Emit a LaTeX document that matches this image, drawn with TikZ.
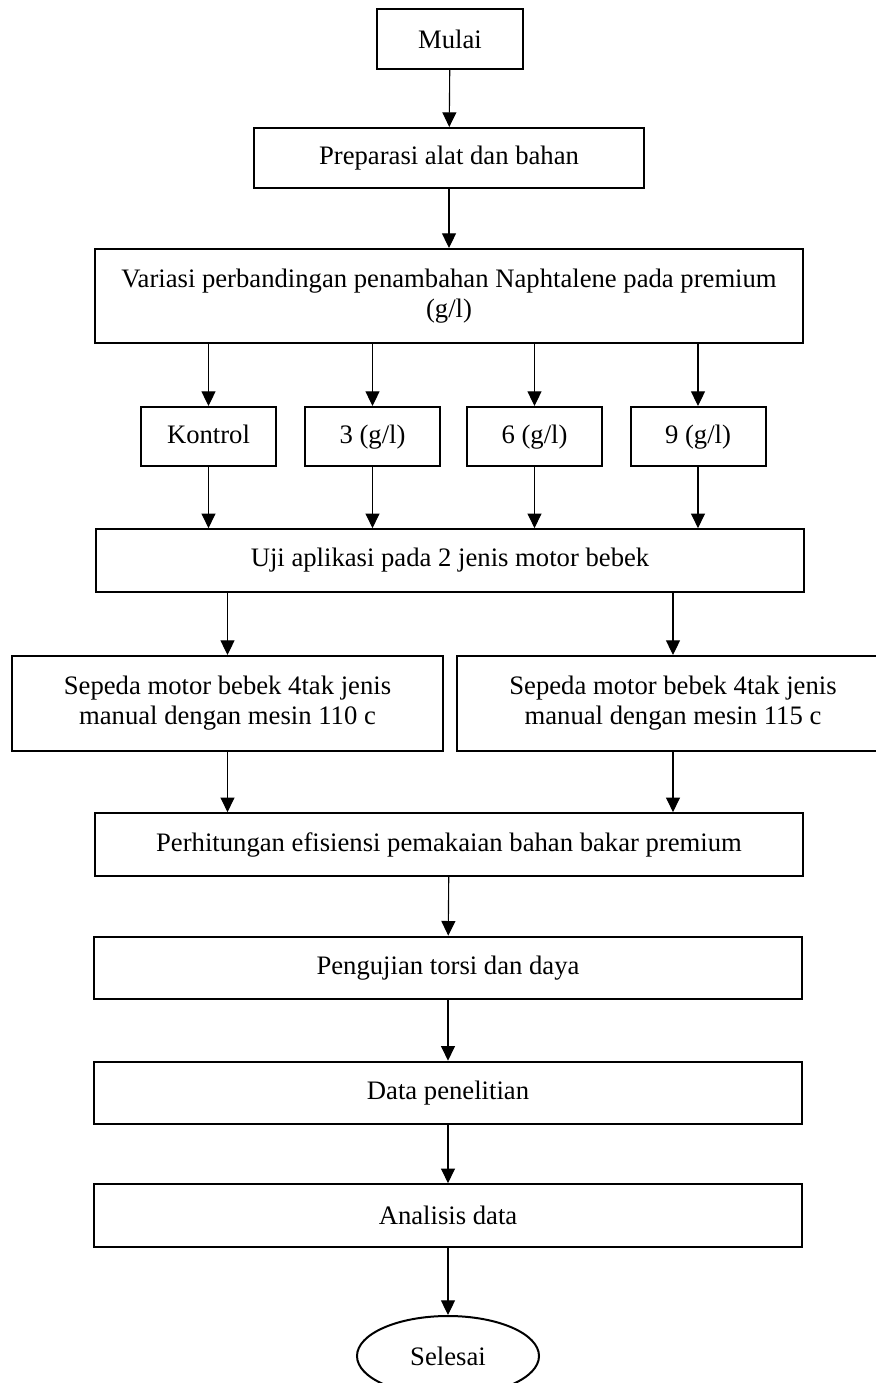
\documentclass[tikz,border=0pt]{standalone}
\usepackage{fontspec}
\setmainfont{Liberation Serif}
\usepackage{tikz}
\usetikzlibrary{arrows.meta,shapes.geometric}

\begin{document}
\begin{tikzpicture}[x=0.45pt,y=-0.45pt,
    kotak/.style={draw=black, line width=0.9pt, inner sep=0pt, align=center, font=\fontsize{12}{13.5}\selectfont},
    lebar/.style={kotak, minimum width=318.6pt, minimum height=28.2pt},
    kecil/.style={kotak, minimum width=60.75pt, minimum height=26.55pt, text height=8.5pt, text depth=2.5pt},
    panah/.style={line width=0.5pt, -{Triangle[width=6.3pt,length=6.6pt]}}]
	    \useasboundingbox (0,0) rectangle (875,1383);
	    % kotak utama
	    \node[kotak, minimum width=65.7pt, minimum height=27pt] (mulai) at (450,39) {Mulai};
	    \node[kotak, minimum width=175.5pt, minimum height=27pt] (prep) at (449,158) {Preparasi alat dan bahan};
	    \node[lebar, minimum height=42.3pt] (variasi) at (449,296) {Variasi perbandingan penambahan Naphtalene pada premium\\(g/l)};
	    \node[kecil] (kontrol) at (208.5,436.5) {Kontrol};
	    \node[kecil] (tiga) at (372.5,436.5) {3 (g/l)};
	    \node[kecil] (enam) at (534.5,436.5) {6 (g/l)};
	    \node[kecil] (sembilan) at (698,436.5) {9 (g/l)};
	    \node[lebar] (uji) at (450,560.5) {Uji aplikasi pada 2 jenis motor bebek};
	    \node[kotak, minimum width=193.95pt, minimum height=42.75pt] (motora) at (227.5,703.5) {Sepeda motor bebek 4tak jenis\\manual dengan mesin 110 c};
	    \node[kotak, minimum width=194.4pt, minimum height=42.75pt] (motorb) at (673,703.5) {Sepeda motor bebek 4tak jenis\\manual dengan mesin 115 c};
	    \node[lebar] (hitung) at (449,844.5) {Perhitungan efisiensi pemakaian bahan bakar premium};
	    \node[lebar] (torsi) at (448,968) {Pengujian torsi dan daya};
	    \node[lebar] (data) at (448,1093) {Data penelitian};
	    \node[lebar] (analisis) at (448,1215.5) {Analisis data};
	    \node[kotak, ellipse, minimum width=81.9pt, minimum height=36pt] (selesai) at (448,1356) {Selesai};
	    % panah
	    \draw[panah] (mulai) -- (prep);
	    \draw[panah] (prep) -- (variasi);
	    \foreach \k in {kontrol,tiga,enam,sembilan} {
	        \draw[panah] (\k.north |- variasi.south) -- (\k.north);
	        \draw[panah] (\k.south) -- (\k.south |- uji.north);
	    }
	    \draw[panah] (motora.north |- uji.south) -- (motora.north);
	    \draw[panah] (motorb.north |- uji.south) -- (motorb.north);
	    \draw[panah] (motora.south) -- (motora.south |- hitung.north);
	    \draw[panah] (motorb.south) -- (motorb.south |- hitung.north);
	    \draw[panah] (hitung) -- (torsi);
	    \draw[panah] (torsi) -- (data);
	    \draw[panah] (data) -- (analisis);
	    \draw[panah] (analisis) -- (selesai);
    \end{tikzpicture}
\end{document}
